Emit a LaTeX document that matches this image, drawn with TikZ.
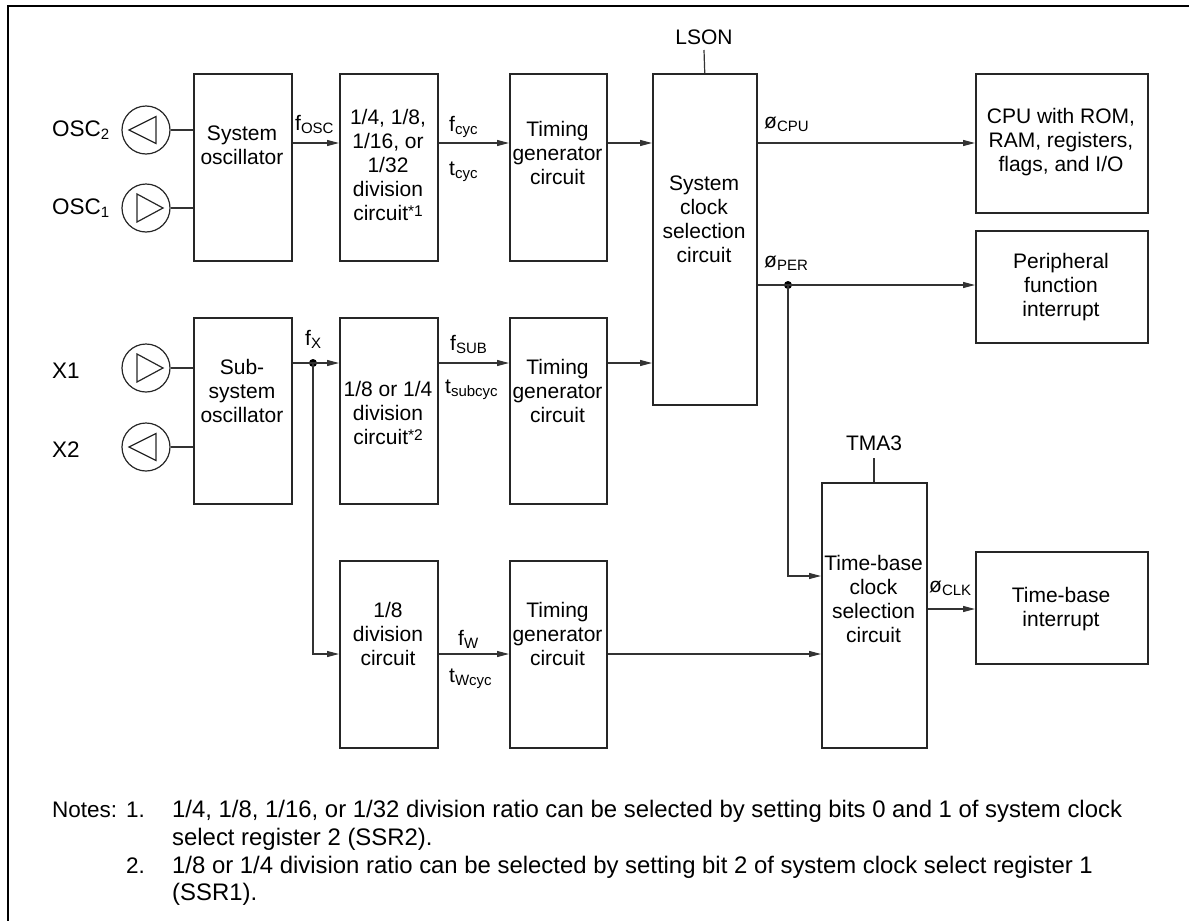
\documentclass[tikz,border=0pt]{standalone}
\usepackage{fontspec}
\setmainfont{Liberation Sans}
\usetikzlibrary{arrows.meta}
\newcommand{\lo}[1]{\raisebox{-3pt}{\fontsize{15}{15}\selectfont #1}}
\newcommand{\hiref}[1]{\raisebox{4pt}{\fontsize{15.5}{15.5}\selectfont #1}}
\begin{document}
\begin{tikzpicture}[x=1pt,y=-1pt,
  box/.style={draw=black!85, line width=1.5pt, inner sep=0pt, anchor=north west},
  txt/.style={font=\fontsize{21}{24}\selectfont, align=center, inner sep=0pt},
  lbl/.style={font=\fontsize{21}{24}\selectfont, inner sep=0pt, anchor=base west},
  pin/.style={font=\fontsize{22.5}{24}\selectfont, inner sep=0pt, anchor=west},
  notehead/.style={font=\fontsize{22.5}{27}\selectfont, inner sep=0pt, anchor=base west},
  note/.style={font=\fontsize{23.9}{27}\selectfont, inner sep=0pt, anchor=base west},
  wire/.style={line width=1.2pt, draw=black!80},
  arr/.style={wire, -{Triangle[length=12pt,width=6pt]}},
  jdot/.style={circle, fill=black, inner sep=0pt, minimum size=8pt},
  osc/.style={circle, draw=black!85, line width=1.2pt, minimum size=48pt, inner sep=0pt},
  tri/.style={line width=1.2pt, draw=black!85},
]
\useasboundingbox (0,0) rectangle (1189,921);
\draw[line width=1.3pt] (8,921) -- (8,6) -- (1189,6);

% levels
\coordinate (r1) at (0,143);
\coordinate (rper) at (0,285);
\coordinate (r2) at (0,363);
\coordinate (rtb) at (0,576);
\coordinate (rclk) at (0,609);
\coordinate (r3) at (0,654);

% boxes
\node[box, minimum width=98pt, minimum height=187pt] (sosc) at (193,73) {};
\node[box, minimum width=98pt, minimum height=187pt] (div1) at (339,73) {};
\node[box, minimum width=97pt, minimum height=187pt] (tg1) at (509,73) {};
\node[box, minimum width=104pt, minimum height=331pt] (scs) at (652,73) {};
\node[box, minimum width=172pt, minimum height=139pt] (cpu) at (975,73) {};
\node[box, minimum width=172pt, minimum height=112pt] (per) at (975,230) {};
\node[box, minimum width=98pt, minimum height=186pt] (ssosc) at (193,317) {};
\node[box, minimum width=98pt, minimum height=186pt] (div2) at (339,317) {};
\node[box, minimum width=97pt, minimum height=186pt] (tg2) at (509,317) {};
\node[box, minimum width=98pt, minimum height=187pt] (div3) at (339,560) {};
\node[box, minimum width=97pt, minimum height=187pt] (tg3) at (509,560) {};
\node[box, minimum width=105pt, minimum height=265pt] (tbs) at (821,482) {};
\node[box, minimum width=172pt, minimum height=112pt] (tbi) at (975,551) {};

% box texts
\node[txt] (sosc-t) at (242,145) {System\\oscillator};
\node[txt] (div1-t) at (388,165) {1/4, 1/8,\\1/16, or\\1/32\\division\\circuit\hiref{*1}};
\node[txt] (tg1-t) at (557.5,153) {Timing\\generator\\circuit};
\node[txt] (scs-t) at (704,219) {System\\clock\\selection\\circuit};
\node[txt] (cpu-t) at (1061,142) {CPU with ROM,\\RAM, registers,\\flags, and I/O};
\node[txt] (per-t) at (1061,287) {Peripheral\\function\\interrupt};
\node[txt] (ssosc-t) at (242,391) {Sub-\\system\\oscillator};
\node[txt] (div2-t) at (388,413) {1/8 or 1/4\\division\\circuit\hiref{*2}};
\node[txt] (tg2-t) at (557.5,391) {Timing\\generator\\circuit};
\node[txt] (div3-t) at (388,634) {1/8\\division\\circuit};
\node[txt] (tg3-t) at (557.5,634) {Timing\\generator\\circuit};
\node[txt] (tbs-t) at (873.5,599) {Time-base\\clock\\selection\\circuit};
\node[txt] (tbi-t) at (1061,609) {Time-base\\interrupt};

% control inputs
\node[txt] (lson) at (704,37) {LSON};
\coordinate (lson-e) at (704,50);
\draw[wire] (lson-e) -- (scs.north);
\node[txt] (tma3) at (874,443) {TMA3};
\coordinate (tma3-e) at (874,458);
\draw[wire] (tma3-e) -- (tma3-e |- tbs.north);

% oscillator pins
\node[osc] (o2) at (146,130) {};
\node[osc] (o1) at (146,208) {};
\node[osc] (x1) at (146,368) {};
\node[osc] (x2) at (146,447) {};
\draw[tri] ([shift={(-17,0)}]o2.center) -- ++(27,-13.5) -- ++(0,27) -- cycle;
\draw[tri] ([shift={(17,0)}]o1.center) -- ++(-26,-14) -- ++(0,28) -- cycle;
\draw[tri] ([shift={(17,0)}]x1.center) -- ++(-26,-14) -- ++(0,28) -- cycle;
\draw[tri] ([shift={(-17,0)}]x2.center) -- ++(27,-13.5) -- ++(0,27) -- cycle;
\draw[wire] (o2.east) -- (o2.east -| sosc.west);
\draw[wire] (o1.east) -- (o1.east -| sosc.west);
\draw[wire] (x1.east) -- (x1.east -| ssosc.west);
\draw[wire] (x2.east) -- (x2.east -| ssosc.west);
\node[pin] (osc2-l) at (52,130) {OSC\lo{2}};
\node[pin] (osc1-l) at (52,208) {OSC\lo{1}};
\node[pin] (x1-l) at (52,371) {X1};
\node[pin] (x2-l) at (52,450) {X2};

% row 1
\draw[arr] (sosc.east |- r1) -- (div1.west |- r1);
\draw[arr] (div1.east |- r1) -- (tg1.west |- r1);
\draw[arr] (tg1.east |- r1) -- (scs.west |- r1);
\draw[arr] (scs.east |- r1) -- (cpu.west |- r1);
\node[jdot] (jper) at (788,285) {};
\draw[arr] (scs.east |- rper) -- (per.west |- rper);
\draw[arr] (jper.center) -- (jper.center |- rtb) -- (tbs.west |- rtb);

% row 2
\node[jdot] (jx) at (313,363) {};
\draw[arr] (ssosc.east |- r2) -- (div2.west |- r2);
\draw[arr] (div2.east |- r2) -- (tg2.west |- r2);
\draw[arr] (tg2.east |- r2) -- (scs.west |- r2);
\draw[arr] (jx.center) -- (jx.center |- r3) -- (div3.west |- r3);

% row 3
\draw[arr] (div3.east |- r3) -- (tg3.west |- r3);
\draw[arr] (tg3.east |- r3) -- (tbs.west |- r3);
\draw[arr] (tbs.east |- rclk) -- (tbi.west |- rclk);

% signal labels
\node[lbl] (fosc) at (295,130) {f\lo{OSC}};
\node[lbl] (fcyc) at (449,131) {f\lo{cyc}};
\node[lbl] (tcyc) at (449,175) {t\lo{cyc}};
\node[lbl] (pcpu) at (764,128) {ø\lo{CPU}};
\node[lbl] (pper) at (764,267) {ø\lo{PER}};
\node[lbl] (fx) at (305,345) {f\lo{X}};
\node[lbl] (fsub) at (450,350) {f\lo{SUB}};
\node[lbl] (tsub) at (445,393) {t\lo{subcyc}};
\node[lbl] (fw) at (458,645) {f\lo{W}};
\node[lbl] (tw) at (449,682) {t\lo{Wcyc}};
\node[lbl] (pclk) at (929,592) {ø\lo{CLK}};

% notes
\node[notehead] (n0) at (52,817) {Notes:};
\node[notehead] (n1) at (126,817) {1.};
\node[note] (n1a) at (172,817) {1/4, 1/8, 1/16, or 1/32 division ratio can be selected by setting bits 0 and 1 of system clock};
\node[note] (n1b) at (172,845) {select register 2 (SSR2).};
\node[notehead] (n2) at (126,873) {2.};
\node[note] (n2a) at (172,873) {1/8 or 1/4 division ratio can be selected by setting bit 2 of system clock select register 1};
\node[note] (n2b) at (172,900) {(SSR1).};
\end{tikzpicture}
\end{document}
